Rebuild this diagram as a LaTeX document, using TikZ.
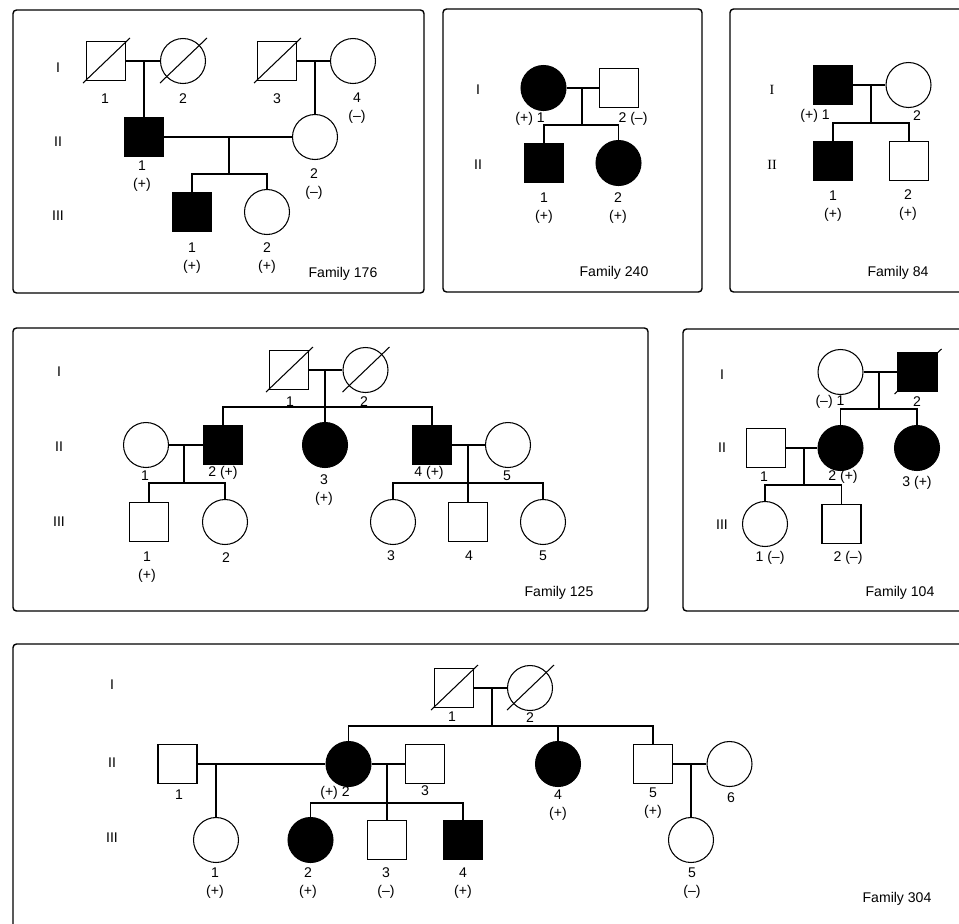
\documentclass[tikz,border=0pt]{standalone}
\usepackage{fontspec}
\setmainfont{Liberation Sans}
\newfontfamily\serifgen{Liberation Serif}
\usetikzlibrary{calc}
\tikzset{
	male/.style={draw, rectangle, minimum size=0.78cm, inner sep=0pt, line width=0.6pt},
	female/.style={draw, circle, minimum size=0.9cm, inner sep=0pt, line width=0.6pt},
	aff/.style={fill=black},
	lab/.style={font=\fontsize{8}{10.4}\selectfont, align=center, inner sep=0pt},
	gen/.style={font=\fontsize{8}{10}\selectfont, inner sep=0pt},
	famBox/.style={line width=0.8pt, rounded corners=2pt},
	tie/.style={line width=0.6pt}
}
\def\deceased(#1){\draw[tie] ($(#1.center)+(-23,22)$) -- ($(#1.center)+(24,-23)$);}

\begin{document}
\begin{tikzpicture}[x=0.02cm, y=-0.02cm]
			\useasboundingbox (0,0) rectangle (959,923);
			\clip (0,0) rectangle (959,923);
			%%%%% FAMILY 176 %%%%%
			\draw[famBox] (13,10) rectangle (424,293);
			\node[gen] at (58,68) {I};
			\node[gen] at (58,142) {II};
			\node[gen] at (58,216) {III};
			
			\node[male] (a1) at (106,61) {};
			\node[female] (a2) at (183,61) {};
			\node[male] (a3) at (277,61) {};
			\node[female] (a4) at (353,61) {};
			\node[male, aff] (a5) at (144,137) {};
			\node[female] (a6) at (315,137) {};
			\node[male, aff] (a7) at (192,212) {};
			\node[female] (a8) at (267,212) {};
			\deceased(a1) \deceased(a2) \deceased(a3)
			
			\coordinate (a12) at (144,61);
			\coordinate (a34) at (315,61);
			\coordinate (a56) at (229,137);
			\coordinate (a56s) at (229,174);
			\draw[tie] (a1) -- (a2);
			\draw[tie] (a12) -- (a5);
			\draw[tie] (a3) -- (a4);
			\draw[tie] (a34) -- (a6);
			\draw[tie] (a5) -- (a6);
			\draw[tie] (a56) -- (a56s);
			\draw[tie] (a7) |- (a56s) -| (a8);
			
			\node[lab] at (105,99) {1};
			\node[lab] at (183,99) {2};
			\node[lab] at (277,99) {3};
			\node[lab] at (357,108) {4\\(--)};
			\node[lab] at (142,176) {1\\(+)};
			\node[lab] at (314,184) {2\\(--)};
			\node[lab] at (192,258) {1\\(+)};
			\node[lab] at (267,258) {2\\(+)};
			\node[lab] at (343,274) {Family 176};
			
			%%%%% FAMILY 240 %%%%%
			\draw[famBox] (443,9) rectangle (702,292);
			\node[gen] at (478,90) {I};
			\node[gen] at (478,165) {II};
			
			\node[female, aff] (b1) at (543.5,88) {};
			\node[male] (b2) at (619,88) {};
			\node[male, aff] (b3) at (544,163) {};
			\node[female, aff] (b4) at (618.5,163) {};
			
			\coordinate (b12) at (582,88);
			\coordinate (b12s) at (582,125);
			\draw[tie] (b1) -- (b2);
			\draw[tie] (b12) -- (b12s);
			\draw[tie] (b3) |- (b12s) -| (b4);
			
			\node[lab] at (530,119) {(+) 1};
			\node[lab] at (633,119) {2 (--)};
			\node[lab] at (544,208) {1\\(+)};
			\node[lab] at (618,208) {2\\(+)};
			\node[lab] at (614,273) {Family 240};
			
			%%%%% FAMILY 84 %%%%%
			\draw[famBox] (730,9) rectangle (990,292);
			\node[gen] at (772,90) {\serifgen I};
			\node[gen] at (772,165) {\serifgen II};
			
			\node[male, aff] (c1) at (833,85) {};
			\node[female] (c2) at (908.5,85) {};
			\node[male, aff] (c3) at (833,161) {};
			\node[male] (c4) at (909,161) {};
			
			\coordinate (c12) at (871,85);
			\coordinate (c12s) at (871,123);
			\draw[tie] (c1) -- (c2);
			\draw[tie] (c12) -- (c12s);
			\draw[tie] (c3) |- (c12s) -| (c4);
			
			\node[lab] at (815,116) {(+) 1};
			\node[lab] at (917,116) {2};
			\node[lab] at (833,206) {1\\(+)};
			\node[lab] at (908,205) {2\\(+)};
			\node[lab] at (898,273) {Family 84};
			
			%%%%% FAMILY 125 %%%%%
			\draw[famBox] (13,328) rectangle (648,611);
			\node[gen] at (59,372) {I};
			\node[gen] at (59,447) {II};
			\node[gen] at (59,522) {III};
			
			\node[male] (d1) at (289,370) {};
			\node[female] (d2) at (365.5,370) {};
			\node[female] (d3) at (146,445) {};
			\node[male, aff] (d4) at (223,445) {};
			\node[female, aff] (d5) at (325,445) {};
			\node[male, aff] (d6) at (432,445) {};
			\node[female] (d7) at (508,445) {};
			\node[male] (d8) at (149,522) {};
			\node[female] (d9) at (225,522) {};
			\node[female] (d10) at (393,522) {};
			\node[male] (d11) at (468,522) {};
			\node[female] (d12) at (543,522) {};
			\deceased(d1) \deceased(d2)
			
			\coordinate (d12m) at (325,370);
			\coordinate (d12s) at (325,407);
			\coordinate (d34) at (184,445);
			\coordinate (d34s) at (184,483);
			\coordinate (d67) at (468,445);
			\coordinate (d67s) at (468,483);
			\draw[tie] (d1) -- (d2);
			\draw[tie] (d12m) -- (d5);
			\draw[tie] (d4) |- (d12s) -| (d6);
			\draw[tie] (d3) -- (d4);
			\draw[tie] (d34) -- (d34s);
			\draw[tie] (d8) |- (d34s) -| (d9);
			\draw[tie] (d6) -- (d7);
			\draw[tie] (d67) -- (d11);
			\draw[tie] (d10) |- (d67s) -| (d12);
			
			\node[lab] at (290,402) {1};
			\node[lab] at (364,402) {2};
			\node[lab] at (145,476) {1};
			\node[lab] at (223,473) {2 (+)};
			\node[lab] at (324,490) {3\\(+)};
			\node[lab] at (429,473) {4 (+)};
			\node[lab] at (507,476) {5};
			\node[lab] at (147,567) {1\\(+)};
			\node[lab] at (226,558) {2};
			\node[lab] at (391,556) {3};
			\node[lab] at (469,556) {4};
			\node[lab] at (543,556) {5};
			\node[lab] at (559,593) {Family 125};
			
			%%%%% FAMILY 104 %%%%%
			\draw[famBox] (683,329) rectangle (990,611);
			\node[gen] at (722,375) {I};
			\node[gen] at (722,448) {II};
			\node[gen] at (722,525) {III};
			
			\node[female] (e1) at (840.5,372) {};
			\node[male, aff] (e2) at (917.5,372) {};
			\node[male] (e3) at (766,448) {};
			\node[female, aff] (e4) at (840.5,448) {};
			\node[female, aff] (e5) at (917,448) {};
			\node[female] (e6) at (765,524) {};
			\node[male] (e7) at (841.5,524) {};
			\deceased(e2)
			
			\coordinate (e12) at (879,372);
			\coordinate (e12s) at (879,409);
			\coordinate (e34) at (804,448);
			\coordinate (e34s) at (804,485);
			\draw[tie] (e1) -- (e2);
			\draw[tie] (e12) -- (e12s);
			\draw[tie] (e4) |- (e12s) -| (e5);
			\draw[tie] (e3) -- (e4);
			\draw[tie] (e34) -- (e34s);
			\draw[tie] (e6) |- (e34s) -| (e7);
			
			\node[lab] at (830,402) {(--) 1};
			\node[lab] at (917,402) {2};
			\node[lab] at (764,477) {1};
			\node[lab] at (843,477) {2 (+)};
			\node[lab] at (917,483) {3 (+)};
			\node[lab] at (770,558) {1 (--)};
			\node[lab] at (848,558) {2 (--)};
			\node[lab] at (900,593) {Family 104};
			
			%%%%% FAMILY 304 %%%%%
			\draw[famBox] (13,644) rectangle (990,950);
			\node[gen] at (112,685) {I};
			\node[gen] at (112,763) {II};
			\node[gen] at (112,838) {III};
			
			\node[male] (g1) at (454,688) {};
			\node[female] (g2) at (530,688) {};
			\node[male] (g3) at (177.5,764) {};
			\node[female, aff] (g4) at (348.5,764) {};
			\node[male] (g5) at (425,764) {};
			\node[female, aff] (g6) at (558,764) {};
			\node[male] (g7) at (653,764) {};
			\node[female] (g8) at (729.5,764) {};
			\node[female] (g9) at (216,840) {};
			\node[female, aff] (g10) at (310.5,840) {};
			\node[male] (g11) at (387,840) {};
			\node[male, aff] (g12) at (463,840) {};
			\node[female] (g13) at (691,840) {};
			\deceased(g1) \deceased(g2)
			
			\coordinate (g12m) at (492,688);
			\coordinate (g12s) at (492,726);
			\coordinate (g34) at (216,764);
			\coordinate (g45) at (387,764);
			\coordinate (g45s) at (387,803);
			\coordinate (g78) at (691,764);
			\draw[tie] (g1) -- (g2);
			\draw[tie] (g12m) -- (g12s);
			\draw[tie] (g4) |- (g12s) -| (g7);
			\draw[tie] (g6) -- (g6 |- g12s);
			\draw[tie] (g3) -- (g4);
			\draw[tie] (g34) -- (g9);
			\draw[tie] (g4) -- (g5);
			\draw[tie] (g45) -- (g11);
			\draw[tie] (g10) |- (g45s) -| (g12);
			\draw[tie] (g7) -- (g8);
			\draw[tie] (g78) -- (g13);
			
			\node[lab] at (452,717) {1};
			\node[lab] at (530,718) {2};
			\node[lab] at (179,795) {1};
			\node[lab] at (335,793) {(+) 2};
			\node[lab] at (425,791) {3};
			\node[lab] at (558,805) {4\\(+)};
			\node[lab] at (653,803) {5\\(+)};
			\node[lab] at (731,798) {6};
			\node[lab] at (215,883) {1\\(+)};
			\node[lab] at (308,883) {2\\(+)};
			\node[lab] at (386,883) {3\\(--)};
			\node[lab] at (463,883) {4\\(+)};
			\node[lab] at (692,883) {5\\(--)};
			\node[lab] at (897,899) {Family 304};
\end{tikzpicture}
\end{document}
